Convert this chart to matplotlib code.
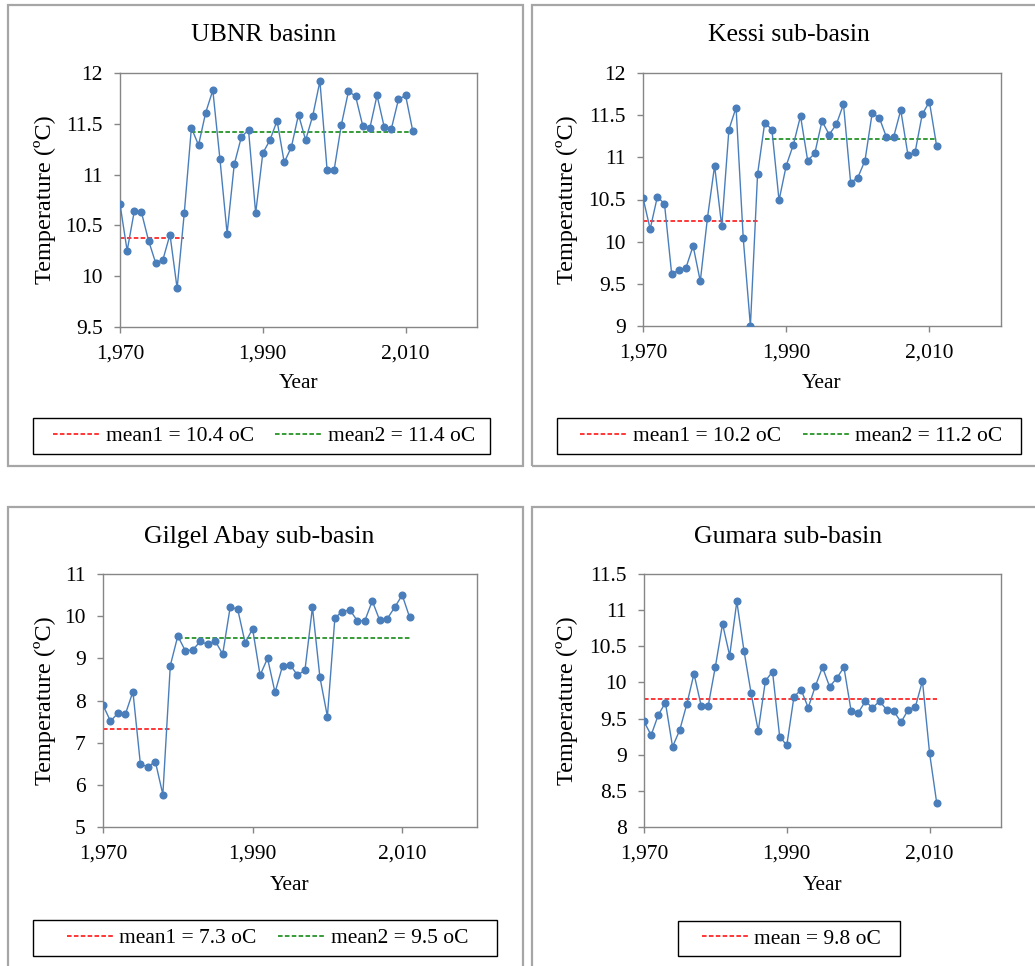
#!/usr/bin/env python3
import numpy as np
import matplotlib
matplotlib.use('Agg')
import matplotlib.pyplot as plt
from matplotlib.patches import Rectangle
from matplotlib.ticker import FuncFormatter

# Annual mean temperature, 1970-2011
years = np.arange(1970, 2012)

ubnr = [10.71, 10.25, 10.64, 10.63, 10.35, 10.13, 10.16, 10.41, 9.88, 10.62,
        11.46, 11.29, 11.61, 11.83, 11.15, 10.42, 11.10, 11.37, 11.44, 10.62,
        11.21, 11.34, 11.53, 11.12, 11.27, 11.59, 11.34, 11.58, 11.92, 11.05,
        11.05, 11.49, 11.82, 11.77, 11.48, 11.46, 11.78, 11.47, 11.45, 11.74,
        11.78, 11.43]

kessi = [10.52, 10.15, 10.53, 10.45, 9.62, 9.66, 9.69, 9.95, 9.53, 10.28,
         10.90, 10.18, 11.33, 11.59, 10.04, 9.00, 10.80, 11.41, 11.33, 10.49,
         10.90, 11.15, 11.49, 10.96, 11.05, 11.43, 11.27, 11.39, 11.63, 10.70,
         10.76, 10.96, 11.52, 11.47, 11.24, 11.24, 11.56, 11.03, 11.06, 11.51,
         11.66, 11.14]

gilgel = [7.89, 7.51, 7.70, 7.68, 8.21, 6.49, 6.43, 6.55, 5.77, 8.83,
          9.53, 9.18, 9.20, 9.40, 9.33, 9.41, 9.10, 10.21, 10.17, 9.37,
          9.70, 8.60, 9.00, 8.19, 8.82, 8.85, 8.60, 8.72, 10.21, 8.55,
          7.62, 9.96, 10.11, 10.15, 9.89, 9.89, 10.36, 9.90, 9.94, 10.21,
          10.50, 9.97]

gumara = [9.46, 9.27, 9.55, 9.72, 9.11, 9.34, 9.70, 10.12, 9.68, 9.68,
          10.22, 10.81, 10.37, 11.12, 10.44, 9.85, 9.33, 10.02, 10.15, 9.25,
          9.13, 9.80, 9.90, 9.65, 9.95, 10.21, 9.94, 10.06, 10.21, 9.61,
          9.58, 9.74, 9.65, 9.74, 9.62, 9.60, 9.45, 9.62, 9.66, 10.02,
          9.02, 8.33]

# mean segments: (label, first year, last year, value, colour)
ubnr_means = [('mean1 = 10.4 oC', 1970, 1979, 10.38, 'red'),
              ('mean2 = 11.4 oC', 1980, 2011, 11.42, 'green')]
kessi_means = [('mean1 = 10.2 oC', 1970, 1986, 10.25, 'red'),
               ('mean2 = 11.2 oC', 1987, 2011, 11.22, 'green')]
gilgel_means = [('mean1 = 7.3 oC', 1970, 1979, 7.33, 'red'),
                ('mean2 = 9.5 oC', 1980, 2011, 9.48, 'green')]
gumara_means = [('mean = 9.8 oC', 1970, 2011, 9.77, 'red')]

W, H = 1035, 966
FONT = 'Liberation Serif'
FS = 15.5
GREY = '#868686'

plt.rcParams['font.family'] = FONT


def px(x0, y0, x1, y1):
    '''pixel box (left, top, right, bottom) -> figure rect'''
    return [x0 / W, 1 - y1 / H, (x1 - x0) / W, (y1 - y0) / H]


def frame_box(fig, b, color, lw):
    fig.patches.append(Rectangle((b[0] / W, 1 - b[3] / H),
                                 (b[2] - b[0]) / W, (b[3] - b[1]) / H,
                                 transform=fig.transFigure, fill=False,
                                 edgecolor=color, linewidth=lw))


def panel(fig, frame, box, title, tpos, vals, ylim, ystep, means,
          ylab_x, year_y, leg_box):
    # outer chart frame
    frame_box(fig, frame, '#a6a6a6', 1.6)

    ax = fig.add_axes(px(*box))
    ax.plot(years, vals, color='#4a7ebb', linewidth=1.0, marker='o',
            markersize=4.8, zorder=3)
    handles = []
    for label, a, b, v, c in means:
        h, = ax.plot([a, b], [v, v], color=c, linewidth=1.1,
                     linestyle=(0, (3, 1.5)), label=label, zorder=2)
        handles.append(h)

    ax.set_xlim(1970, 2020)
    ax.set_ylim(*ylim)
    ax.set_xticks([1970, 1990, 2010])
    ax.set_yticks(np.arange(ylim[0], ylim[1] + 0.001, ystep))
    ax.xaxis.set_major_formatter(FuncFormatter(lambda x, p: '{:,.0f}'.format(x)))
    ax.yaxis.set_major_formatter(FuncFormatter(lambda y, p: '{:g}'.format(y)))
    for s in ax.spines.values():
        s.set_color(GREY)
        s.set_linewidth(1.0)
    ax.tick_params(axis='both', direction='out', length=4.5, width=1.0,
                   color=GREY, labelsize=FS, pad=8)

    fig.text(tpos[0] / W, 1 - tpos[1] / H, title, ha='center', va='center',
             fontsize=18.5)
    fig.text(ylab_x / W, 1 - (box[1] + box[3]) / 2 / H,
             'Temperature (\u00baC)', rotation=90, ha='center', va='center',
             fontsize=17.5)
    fig.text((box[0] + box[2]) / 2 / W, 1 - year_y / H, 'Year',
             ha='center', va='center', fontsize=FS)

    # legend box drawn separately, Excel style (more room left of the keys)
    frame_box(fig, leg_box, 'black', 1.0)
    cx = (leg_box[0] + leg_box[2]) / 2 + 2.5
    cy = (leg_box[1] + leg_box[3]) / 2
    ax.legend(handles=handles, loc='center', ncol=len(handles),
              bbox_to_anchor=(cx / W, 1 - cy / H),
              bbox_transform=fig.transFigure, frameon=False, fontsize=FS,
              handlelength=2.15, handletextpad=0.3, columnspacing=1.0,
              borderpad=0.2, borderaxespad=0)
    return ax


fig = plt.figure(figsize=(W / 100, H / 100), dpi=100)

panel(fig, (8, 5, 523, 466), (120, 73, 477, 327), 'UBNR basinn', (264, 35),
      ubnr, (9.5, 12), 0.5, ubnr_means, 45, 384, (33, 418, 490, 454))
panel(fig, (532, 5, 1047, 466), (643, 73, 1001, 326), 'Kessi sub-basin',
      (789, 35), kessi, (9, 12), 0.5, kessi_means, 567, 384,
      (557, 418, 1021, 454))
panel(fig, (8, 507, 523, 1000), (103, 574, 477, 827), 'Gilgel Abay sub-basin',
      (259, 537), gilgel, (5, 11), 1, gilgel_means, 45, 886,
      (33, 920, 497, 956))
panel(fig, (532, 507, 1047, 1000), (644, 574, 1001, 827), 'Gumara sub-basin',
      (788, 537), gumara, (8, 11.5), 0.5, gumara_means, 567, 886,
      (678, 921, 900, 956))

fig.savefig('out.png', dpi=100)
plt.close(fig)
